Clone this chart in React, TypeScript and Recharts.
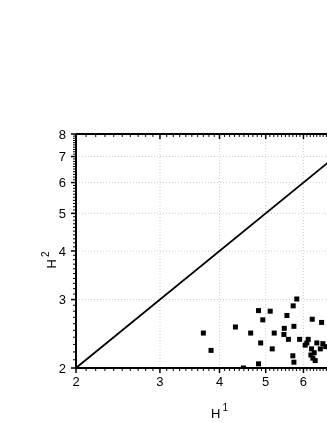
import React from "react";
import {
  ScatterChart,
  Scatter,
  XAxis,
  YAxis,
  ReferenceLine
} from "recharts";

// measured points (H1, H2)
const h1Values = [
  3.70, 3.84, 4.32, 4.65, 4.83, 4.93, 4.88, 4.83, 4.49, 5.11, 5.21, 5.16,
  5.54, 5.71, 5.81, 5.47, 5.46, 5.58, 5.73, 5.89, 5.70, 5.73, 6.14, 6.10,
  6.05, 6.26, 6.55, 6.40, 6.24, 6.32, 6.22, 6.28, 6.35, 6.59, 6.51, 6.68,
  6.85, 7.05, 7.30
];
const h2Values = [
  2.46, 2.22, 2.55, 2.46, 2.81, 2.66, 2.32, 2.05, 2.00, 2.80, 2.46, 2.24,
  2.73, 2.89, 3.01, 2.53, 2.44, 2.37, 2.56, 2.37, 2.15, 2.07, 2.37, 2.32,
  2.29, 2.67, 2.62, 2.32, 2.24, 2.19, 2.16, 2.12, 2.09, 2.31, 2.24, 2.27,
  2.40, 2.20, 2.50
];

// y = x reference
const diagH = [2, 8];

const majorTicks = [2, 3, 4, 5, 6, 7, 8];
const gridTicks = [3, 4, 5, 6, 7];

const makeMinor = (lo: number, hi: number) => {
  const out: number[] = [];
  for (let i = lo * 10; i <= hi * 10; i++) out.push(i / 10);
  return out;
};
const allTicks = makeMinor(2, 8);

const points = h1Values.map((x, i) => ({ x, y: h2Values[i] }));
const diag = diagH.map((v) => ({ x: v, y: v }));

const FONT = '"Liberation Sans", Arial, sans-serif';
const isMajor = (v: number) => majorTicks.includes(v);

const BottomTick = (props: any) => {
  const { x, y, payload } = props;
  const major = isMajor(payload.value);
  return (
    <g>
      <line x1={x} x2={x} y1={y} y2={y + (major ? 5 : 3)} stroke="#000" strokeWidth={major ? 1.5 : 1} />
      {major && (
        <text x={x} y={y + 18} textAnchor="middle" fontSize={13} fontFamily={FONT} fill="#000">
          {payload.value}
        </text>
      )}
    </g>
  );
};

const TopTick = (props: any) => {
  const { x, y, payload } = props;
  const major = isMajor(payload.value);
  return (
    <line x1={x} x2={x} y1={y} y2={y + (major ? 5 : 3)} stroke="#000" strokeWidth={major ? 1.5 : 1} />
  );
};

const LeftTick = (props: any) => {
  const { x, y, payload } = props;
  const major = isMajor(payload.value);
  return (
    <g>
      <line x1={x - (major ? 5 : 3)} x2={x} y1={y} y2={y} stroke="#000" strokeWidth={major ? 1.5 : 1} />
      {major && (
        <text x={x - 10} y={y} dy="0.36em" textAnchor="end" fontSize={13} fontFamily={FONT} fill="#000">
          {payload.value}
        </text>
      )}
    </g>
  );
};

const XLabel = (props: any) => {
  const { viewBox } = props;
  const cx = viewBox.x + viewBox.width / 2;
  return (
    <text x={cx} y={viewBox.y + 50} textAnchor="middle" fontSize={13} fontFamily={FONT} fill="#000">
      <tspan>H</tspan>
      <tspan dx={2} dy={-7} fontSize={10}>1</tspan>
    </text>
  );
};

const YLabel = () => (
  <text
    x={48}
    y={252}
    transform="rotate(-90 48 252)"
    textAnchor="middle"
    fontSize={13}
    fontFamily={FONT}
    fill="#000"
  >
    <tspan>H</tspan>
    <tspan dx={2} dy={-7} fontSize={10}>2</tspan>
  </text>
);

const Square = (props: any) => {
  const { cx, cy } = props;
  return <rect x={cx - 2.5} y={cy - 2.5} width={5} height={5} fill="#000" />;
};

const Nothing = () => <g />;

export default function App() {
  return (
    <div style={{ position: "fixed", top: 8, left: 8, width: 319, height: 415, overflow: "hidden" }}>
      <ScatterChart width={380} height={415} margin={{ top: 116, right: 25, left: 0, bottom: 0 }}>
        <XAxis
          xAxisId="bottom"
          dataKey="x"
          type="number"
          scale="log"
          domain={[2, 8]}
          allowDataOverflow
          ticks={allTicks}
          interval={0}
          tickSize={0}
          tickMargin={0}
          tickLine={false}
          tick={<BottomTick />}
          height={55}
          axisLine={{ stroke: "#000", strokeWidth: 2 }}
          label={<XLabel />}
        />
        <XAxis
          xAxisId="top"
          orientation="top"
          dataKey="x"
          type="number"
          scale="log"
          domain={[2, 8]}
          allowDataOverflow
          ticks={allTicks}
          interval={0}
          tickSize={0}
          tickMargin={0}
          tickLine={false}
          tick={<TopTick />}
          height={10}
          axisLine={{ stroke: "#000", strokeWidth: 2 }}
        />
        <YAxis
          dataKey="y"
          type="number"
          scale="log"
          domain={[2, 8]}
          allowDataOverflow
          ticks={allTicks}
          interval={0}
          tickSize={0}
          tickMargin={0}
          tickLine={false}
          tick={<LeftTick />}
          width={68}
          axisLine={{ stroke: "#000", strokeWidth: 2 }}
          label={<YLabel />}
        />
        {gridTicks.map((v) => (
          <ReferenceLine key={"gx" + v} xAxisId="bottom" x={v} stroke="#cfcfcf" strokeDasharray="1 2" />
        ))}
        {gridTicks.map((v) => (
          <ReferenceLine key={"gy" + v} xAxisId="bottom" y={v} stroke="#cfcfcf" strokeDasharray="1 2" />
        ))}
        <Scatter
          xAxisId="bottom"
          data={diag}
          line={{ stroke: "#000", strokeWidth: 1.8 }}
          shape={<Nothing />}
          isAnimationActive={false}
        />
        <Scatter
          xAxisId="bottom"
          data={points}
          shape={<Square />}
          isAnimationActive={false}
        />
      </ScatterChart>
    </div>
  );
}
